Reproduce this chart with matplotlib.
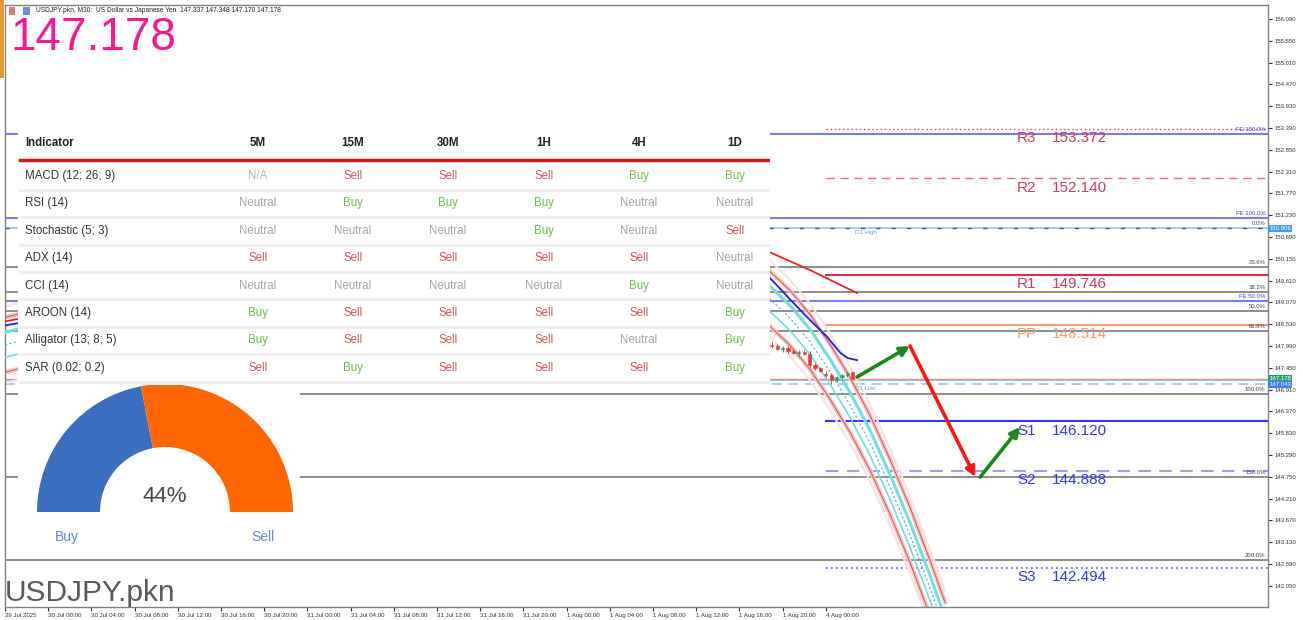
"""USDJPY M30 chart with pivot levels, fibo lines, indicator table and buy/sell gauge."""
import matplotlib
matplotlib.use("Agg")
import matplotlib.pyplot as plt
import numpy as np
from matplotlib.patches import Rectangle, Wedge
from matplotlib.transforms import blended_transform_factory

plt.rcParams['font.family'] = ['Liberation Sans', 'DejaVu Sans']

W, H = 1303, 620

# ---------------- data ----------------
symbol = "USDJPY.pkn"
title_text = "USDJPY.pkn, M30:  US Dollar vs Japanese Yen  147.337 147.348 147.170 147.178"
last_price = 147.178

x_tick_bars = [-8, 0, 8, 16, 24, 32, 40, 48, 56, 64, 72, 80, 88, 96, 104, 112, 120, 128, 136, 144]
x_tick_labels = ["29 Jul 2025", "30 Jul 00:00", "30 Jul 04:00", "30 Jul 08:00", "30 Jul 12:00",
                 "30 Jul 16:00", "30 Jul 20:00", "31 Jul 00:00", "31 Jul 04:00", "31 Jul 08:00",
                 "31 Jul 12:00", "31 Jul 16:00", "31 Jul 20:00", "1 Aug 00:00", "1 Aug 04:00",
                 "1 Aug 08:00", "1 Aug 12:00", "1 Aug 16:00", "1 Aug 20:00", "4 Aug 00:00"]
price_ticks = [156.090, 155.550, 155.010, 154.470, 153.930, 153.390, 152.850, 152.310, 151.770,
               151.230, 150.690, 150.150, 149.610, 149.070, 148.530, 147.990, 147.450, 146.910,
               146.370, 145.830, 145.290, 144.750, 144.210, 143.670, 143.130, 142.590, 142.050]

# candles (bar index, OHLC)
bar_idx = list(range(130, 150))
opens = [148.30, 148.22, 148.14, 148.06, 148.02, 147.98, 147.92, 147.95, 147.86, 147.82,
         147.84, 147.80, 147.52, 147.44, 147.30, 147.26, 147.16, 147.22, 147.26, 147.337]
highs = [148.36, 148.28, 148.20, 148.12, 148.10, 148.04, 147.98, 148.00, 147.92, 147.88,
         147.90, 147.86, 147.58, 147.48, 147.36, 147.30, 147.24, 147.30, 147.36, 147.348]
lows = [148.18, 148.10, 148.02, 147.98, 147.94, 147.88, 147.84, 147.82, 147.78, 147.74,
        147.76, 147.48, 147.40, 147.34, 147.22, 147.043, 147.10, 147.14, 147.22, 147.170]
closes = [148.22, 148.14, 148.06, 148.02, 147.98, 147.92, 147.95, 147.86, 147.82, 147.84,
          147.80, 147.52, 147.44, 147.38, 147.26, 147.16, 147.22, 147.26, 147.33, 147.178]

# regression channel centre line and band widths
chan_bars = [-8, 30, 70, 110, 128, 133.5, 137.4, 141.1, 144.8, 148.5, 152.2, 155.9, 159.6, 163.3, 166.1]
chan_mid = [148.02, 149.30, 150.10, 150.20, 149.72, 149.18, 148.68, 148.09, 147.35, 146.53,
            145.59, 144.50, 143.31, 142.00, 140.96]
chan_inner = 0.31
chan_outer = 0.68
chan_faint = 0.95

# moving averages
ma_blue_bars = [-8, 40, 90, 128, 133.5, 138.0, 141.1, 144.3, 146.7, 148.1, 149.8]
ma_blue = [148.50, 149.60, 150.30, 150.20, 149.70, 149.06, 148.63, 148.21, 147.82, 147.69, 147.64]
ma_red_bars = [-8, 40, 90, 128, 133.5, 141.1, 149.8]
ma_red = [148.60, 149.80, 150.60, 150.60, 150.32, 149.87, 149.30]

# pivots
pivot_names = ["R3", "R2", "R1", "PP", "S1", "S2", "S3"]
pivot_values = [153.372, 152.140, 149.746, 148.514, 146.120, 144.888, 142.494]
pivot_start_bar = 144

# fibo retracement / expansion
fib_labels = ["0.0%", "23.6%", "38.2%", "50.0%", "61.8%", "100.0%", "150.0%", "200.0%"]
fib_prices = [150.909, 149.939, 149.339, 148.855, 148.370, 146.800, 144.745, 142.690]
fe_labels = ["FE 150.0%", "FE 100.0%", "FE 50.0%"]
fe_prices = [153.235, 151.170, 149.105]
d1_high = 150.909
d1_low = 147.043

# projected path arrows: (bar0, price0, bar1, price1, colour)
arrows = [(149.8, 147.222, 159.6, 147.990, "#168a16"),
          (159.6, 147.990, 171.7, 144.745, "#ff1414"),
          (172.6, 144.745, 180.0, 145.984, "#168a16")]

# indicator table
timeframes = ["5M", "15M", "30M", "1H", "4H", "1D"]
indicators = ["MACD (12; 26; 9)", "RSI (14)", "Stochastic (5; 3)", "ADX (14)", "CCI (14)",
              "AROON (14)", "Alligator (13; 8; 5)", "SAR (0.02; 0.2)"]
signals = [
    ["N/A", "Sell", "Sell", "Sell", "Buy", "Buy"],
    ["Neutral", "Buy", "Buy", "Buy", "Neutral", "Neutral"],
    ["Neutral", "Neutral", "Neutral", "Buy", "Neutral", "Sell"],
    ["Sell", "Sell", "Sell", "Sell", "Sell", "Neutral"],
    ["Neutral", "Neutral", "Neutral", "Neutral", "Buy", "Neutral"],
    ["Buy", "Sell", "Sell", "Sell", "Sell", "Buy"],
    ["Buy", "Sell", "Sell", "Sell", "Neutral", "Buy"],
    ["Sell", "Buy", "Sell", "Sell", "Sell", "Buy"],
]
buy_pct = 44

# ---------------- figure ----------------
fig = plt.figure(figsize=(W / 100, H / 100), dpi=100)
fig.patch.set_facecolor("white")

ax = fig.add_axes([5 / W, 13 / H, 1263 / W, 602 / H])
ax.set_xlim(-8, 225.9)
ax.set_ylim(141.525, 156.437)
for s in ax.spines.values():
    s.set_color("#808080")
    s.set_linewidth(1)

ax.yaxis.tick_right()
ax.set_yticks(price_ticks)
ax.set_yticklabels([f"{p:.3f}" for p in price_ticks])
ax.tick_params(axis="y", labelsize=4.3, length=3, pad=2, colors="#333333")
ax.set_xticks(x_tick_bars)
ax.set_xticklabels(x_tick_labels)
ax.tick_params(axis="x", labelsize=4.4, length=3, pad=1, colors="#333333")
plt.setp(ax.get_xticklabels(), ha="left")

trans_r = blended_transform_factory(ax.transAxes, ax.transData)

# fibo lines (full width)
for lab, p in zip(fib_labels, fib_prices):
    if lab == "0.0%":
        ax.axhline(d1_high, color="#8ec5f5", lw=1.2, zorder=1)
        ax.axhline(p, color="#555555", lw=1, ls=(0, (3, 8)), zorder=1.1)
    else:
        ax.axhline(p, color="#8c8c8c", lw=1.4, zorder=1)
    ax.text(0.998, p + 0.05, lab, transform=trans_r, ha="right", va="bottom",
            fontsize=4.3, color="#444444")

for lab, p in zip(fe_labels, fe_prices):
    ax.axhline(p, color="#7b7bf5", lw=1.5, zorder=1)
    ax.text(0.998, p + 0.05, lab, transform=trans_r, ha="right", va="bottom",
            fontsize=4.3, color="#3b3bff")

ax.axhline(d1_low, color="#8ec5f5", lw=1.2, ls=(0, (6, 4)), zorder=1)
ax.axhline(last_price, color="#f08a80", lw=1, zorder=1)
ax.axhline(last_price - 0.03, color="#7fd6d0", lw=0.8, zorder=1)
ax.text(149.4, d1_high - 0.05, "D1 High", ha="left", va="top", fontsize=4.3, color="#5aa0e8")
ax.text(149.4, d1_low - 0.05, "D1 Low", ha="left", va="top", fontsize=4.3, color="#5aa0e8")

# pivot lines
pivot_styles = {
    "R3": ("#e8506a", (0, (1, 2)), 1.0),
    "R2": ("#ee6a7c", (0, (6, 4)), 1.0),
    "R1": ("#e0304a", "-", 1.5),
    "PP": ("#f59a72", "-", 1.5),
    "S1": ("#3434ff", "-", 1.5),
    "S2": ("#9a9aff", (0, (6, 4)), 1.5),
    "S3": ("#5a5aff", (0, (1, 2)), 1.2),
}
pivot_text_col = {"R": "#d43a58", "P": "#f59a72", "S": "#3434ff"}
for name, val in zip(pivot_names, pivot_values):
    col, ls, lw = pivot_styles[name]
    ax.plot([pivot_start_bar, 225.9], [val, val], color=col, ls=ls, lw=lw, zorder=2)
    tc = pivot_text_col[name[0]]
    ax.annotate(name, (179.4, val), xytext=(0, -1.5), textcoords="offset points",
                ha="left", va="top", fontsize=11, color=tc)
    ax.annotate(f"{val:.3f}", (185.9, val), xytext=(0, -1.5), textcoords="offset points",
                ha="left", va="top", fontsize=11, color=tc)

# regression channel
mid = np.array(chan_mid)
ax.plot(chan_bars, mid + chan_faint, color="#f8e2e2", lw=1.6, zorder=2)
ax.plot(chan_bars, mid - chan_faint, color="#f8e2e2", lw=1.6, zorder=2)
ax.plot(chan_bars, mid + chan_outer, color="#f3c9c9", lw=3.2, zorder=2.5)
ax.plot(chan_bars, mid - chan_outer, color="#f3c9c9", lw=3.2, zorder=2.5)
ax.plot(chan_bars, mid + chan_outer, color="#e05858", lw=0.8, zorder=3)
ax.plot(chan_bars, mid - chan_outer, color="#e05858", lw=0.8, zorder=3)
ax.plot(chan_bars, mid + chan_inner, color="#6fe0e0", lw=2.2, zorder=3)
ax.plot(chan_bars, mid - chan_inner, color="#6fe0e0", lw=1.2, zorder=3)
ax.plot(chan_bars, mid, color="#3cbcbc", lw=0.8, ls=(0, (2, 2)), zorder=3)

# moving averages
ax.plot(ma_blue_bars, ma_blue, color="#2020e0", lw=1.3, zorder=4)
ax.plot(ma_red_bars, ma_red, color="#ee2020", lw=1.3, zorder=4)

# candles
for b, o, h, l, c in zip(bar_idx, opens, highs, lows, closes):
    col = "#2e9e6e" if c >= o else "#e53935"
    ax.vlines(b, l, h, color=col, lw=0.7, zorder=5)
    ax.add_patch(Rectangle((b - 0.3, min(o, c)), 0.6, max(abs(c - o), 0.012),
                           fc=col, ec=col, lw=0.4, zorder=5))

# projection arrows
for b0, p0, b1, p1, col in arrows:
    ax.annotate("", xy=(b1, p1), xytext=(b0, p0),
                arrowprops=dict(arrowstyle="-|>", color=col, lw=2.6, mutation_scale=14,
                                shrinkA=0, shrinkB=0), zorder=6)

# price tags on the axis
tags = [(d1_high, "#3d9bff"), (last_price, "#2aa07a"), (d1_low, "#3d7bff")]
for p, col in tags:
    ax.text(1.001, p, f"{p:.3f}", transform=trans_r, ha="left", va="center", fontsize=4.3,
            color="white", bbox=dict(boxstyle="square,pad=0.15", fc=col, ec="none"),
            clip_on=False)

# ---------------- indicator table ----------------
tax = fig.add_axes([18 / W, 1 - 385 / H, 752 / W, 260 / H])
tax.set_xlim(0, 752)
tax.set_ylim(260, 0)
tax.set_xticks([])
tax.set_yticks([])
for s in tax.spines.values():
    s.set_visible(False)
tax.set_facecolor("white")

col_x = [240, 335, 430, 526, 621, 717]
sig_col = {"Sell": "#cc5a5a", "Buy": "#6cbf4e", "Neutral": "#a3a3a3", "N/A": "#b5b5b5"}
tax.text(7, 18, "Indicator", fontsize=8.3, fontweight="bold", color="#222222", va="center")
for x, tf in zip(col_x, timeframes):
    tax.text(x, 18, tf, fontsize=8.3, fontweight="bold", color="#222222", ha="center", va="center")
tax.plot([2, 752], [35, 35], color="#d41818", lw=2.5)
for i, (name, row) in enumerate(zip(indicators, signals)):
    y = 51 + 27.4 * i
    tax.text(7, y, name, fontsize=8.3, color="#333333", va="center")
    for x, sig in zip(col_x, row):
        tax.text(x, y, sig, fontsize=8.3, color=sig_col[sig], ha="center", va="center")
    tax.plot([2, 752], [y + 13.7, y + 13.7], color="#efefef", lw=2.2)

# ---------------- gauge ----------------
gax = fig.add_axes([18 / W, 1 - 558 / H, 282 / W, 173 / H])
gax.set_xlim(0, 282)
gax.set_ylim(0, 173)
gax.set_xticks([])
gax.set_yticks([])
for s in gax.spines.values():
    s.set_visible(False)
gax.set_facecolor("white")
split = 180 - 180 * buy_pct / 100
gax.add_patch(Wedge((147, 46), 128, split, 180, width=63, fc="#3a6fbf", ec="none"))
gax.add_patch(Wedge((147, 46), 128, 0, split, width=63, fc="#ff6600", ec="none"))
gax.text(147, 62, f"{buy_pct}%", ha="center", va="center", fontsize=16, color="#4a4a4a")
gax.text(49, 21, "Buy", ha="center", va="center", fontsize=10, color="#6a8cd0")
gax.text(245, 21, "Sell", ha="center", va="center", fontsize=10, color="#6a8cd0")

# ---------------- frame texts ----------------
fig.patches.append(Rectangle((0, 1 - 78 / H), 4 / W, 78 / H, transform=fig.transFigure,
                             fc="#e09b3d", ec="none"))
fig.patches.append(Rectangle((9 / W, 1 - 15 / H), 6 / W, 8 / H, transform=fig.transFigure,
                             fc="#e27a7a", ec="none"))
fig.patches.append(Rectangle((23 / W, 1 - 15 / H), 7 / W, 8 / H, transform=fig.transFigure,
                             fc="#6a8fe0", ec="none"))
fig.text(36 / W, 1 - 11 / H, title_text, fontsize=4.8, color="#222222", va="center")
fig.text(11 / W, 1 - 50 / H, f"{last_price:.3f}", fontsize=33, color="#ff1493", va="baseline")
fig.text(5 / W, 1 - 601 / H, symbol, fontsize=21.5, color="#5a5a5a", va="baseline")

fig.savefig("out.png", dpi=100)
